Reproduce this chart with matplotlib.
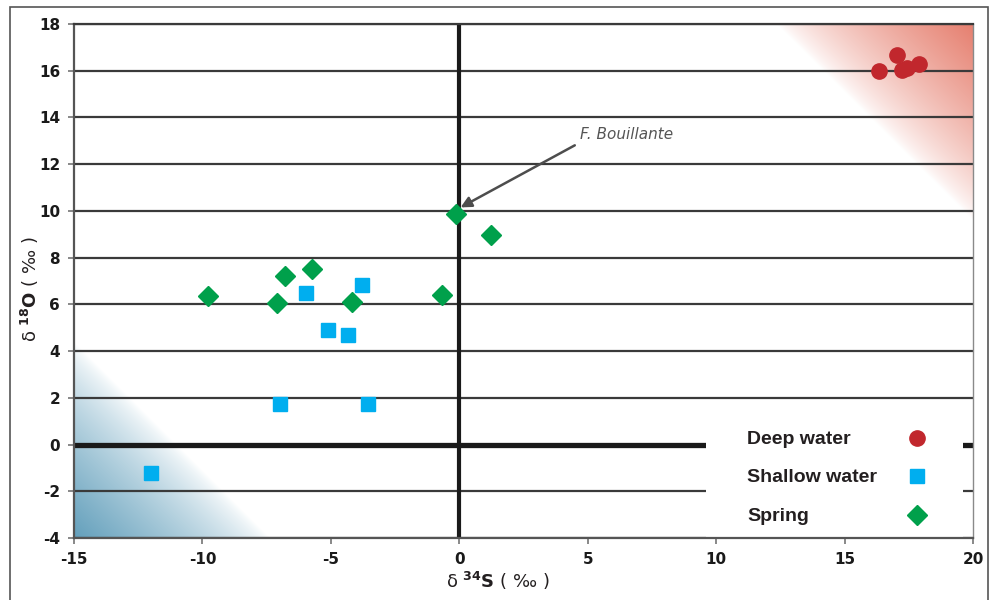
import numpy as np
import matplotlib
matplotlib.use('Agg')
import matplotlib.pyplot as plt
from matplotlib.patches import Rectangle

plt.rcParams['axes.unicode_minus'] = False

# data
deep_x = [16.34, 17.04, 17.23, 17.43, 17.90]
deep_y = [15.99, 16.67, 16.03, 16.10, 16.29]
shallow_x = [-12.0, -5.96, -3.79, -5.12, -4.34, -6.99, -3.56]
shallow_y = [-1.22, 6.49, 6.83, 4.90, 4.69, 1.73, 1.73]
spring_x = [-9.79, -6.79, -5.73, -7.10, -4.18, -0.67, -0.13, 1.23]
spring_y = [6.35, 7.20, 7.50, 6.05, 6.10, 6.42, 9.87, 8.95]
labels = ['Deep water', 'Shallow water', 'Spring']
xticks = [-15, -10, -5, 0, 5, 10, 15, 20]
yticks = list(range(-4, 19, 2))

c_deep = '#c1272d'
c_shallow = '#00aeef'
c_spring = '#00a04b'

fig = plt.figure(figsize=(9.93, 6.0), dpi=100)
ax = fig.add_axes([74/993, 1-538/600, 899/993, 514/600])
ax.set_xlim(-15, 20)
ax.set_ylim(-4, 18)

# corner gradients (pixel-ish grid over the axes)
nx, ny = 899, 514
u = np.linspace(0, 1, nx)[None, :]
v = np.linspace(1, 0, ny)[:, None]
a_blue = np.clip(1 - (u*nx + v*ny)/195, 0, 1)**0.75
a_red = np.clip(1 - ((1-u)*nx + (1-v)*ny)/195, 0, 1)**0.75
blue = np.array([100, 160, 188])/255
red = np.array([230, 128, 112])/255
img = np.ones((ny, nx, 3))
img = img*(1 - a_blue[..., None] - a_red[..., None]) + a_blue[..., None]*blue + a_red[..., None]*red
ax.imshow(img, extent=[-15, 20, -4, 18], aspect='auto', zorder=0, interpolation='bilinear')

ax.set_xticks(xticks)
ax.set_yticks(yticks)
ax.set_axisbelow(True)
ax.yaxis.grid(True, color='#3a3a3a', lw=1.6)
ax.xaxis.grid(False)
ax.axhline(0, color='#1a1a1a', lw=3.8, zorder=1)
ax.axvline(0, color='#1a1a1a', lw=3.0, zorder=1)

for s in ['left', 'bottom']:
    ax.spines[s].set_color('#555555')
    ax.spines[s].set_linewidth(1.6)
ax.spines['top'].set_color('#3a3a3a')
ax.spines['top'].set_linewidth(1.6)
ax.spines['right'].set_color('#8a8a8a')
ax.spines['right'].set_linewidth(1.0)
ax.tick_params(direction='out', length=4, width=1.4, color='#888888', labelsize=11,
               labelcolor='#1a1a1a', pad=6)
for t in ax.get_xticklabels() + ax.get_yticklabels():
    t.set_fontweight('bold')

# white box behind legend
ax.add_patch(Rectangle((9.6, -4), 10.0, 5.05, facecolor='white', edgecolor='none', zorder=1.8))

ax.plot(deep_x, deep_y, 'o', color=c_deep, ms=11, zorder=3, ls='none')
ax.plot(shallow_x, shallow_y, 's', color=c_shallow, ms=10, zorder=3, ls='none')
ax.plot(spring_x, spring_y, 'D', color=c_spring, ms=10, zorder=3, ls='none')

ax.annotate('F. Bouillante', xy=(0.05, 10.15), xytext=(4.7, 13.25),
            fontsize=11, style='italic', color='#555555', va='center', ha='left',
            arrowprops=dict(arrowstyle='-|>', color='#4d4d4d', lw=1.8, mutation_scale=16,
                            shrinkA=2, shrinkB=0, relpos=(0.0, 0.0)), zorder=4)

# hand-made legend
leg_y = [(538-438)/514, (538-476)/514, (538-515)/514]
leg_style = [('o', c_deep, 11), ('s', c_shallow, 10), ('D', c_spring, 10)]
for lab, yy, (m, c, ms) in zip(labels, leg_y, leg_style):
    ax.text((747-74)/899, yy - 0.003, lab, transform=ax.transAxes, fontsize=14, fontweight='bold',
            family='Liberation Sans', color='#231f20', va='center', ha='left', zorder=4)
    ax.plot([(917-74)/899], [yy], marker=m, color=c, ms=ms, ls='none',
            transform=ax.transAxes, zorder=4, clip_on=False)

ax.set_xlabel('δ $^{\\mathbf{34}}$$\\mathbf{S}$ ( ‰ )', fontsize=13, color='#231f20')
ax.set_ylabel('δ $^{\\mathbf{18}}$$\\mathbf{O}$ ( ‰ )', fontsize=13, color='#231f20')
ax.xaxis.set_label_coords((498-74)/899, (538-570)/514)
ax.yaxis.set_label_coords((41-74)/899, (538-289)/514)

fig.add_artist(Rectangle((10/993, -0.1), 978/993, 1.1 - 7/600, transform=fig.transFigure,
                         fill=False, edgecolor='#555555', lw=1.2))

fig.savefig('out.png', dpi=100)
